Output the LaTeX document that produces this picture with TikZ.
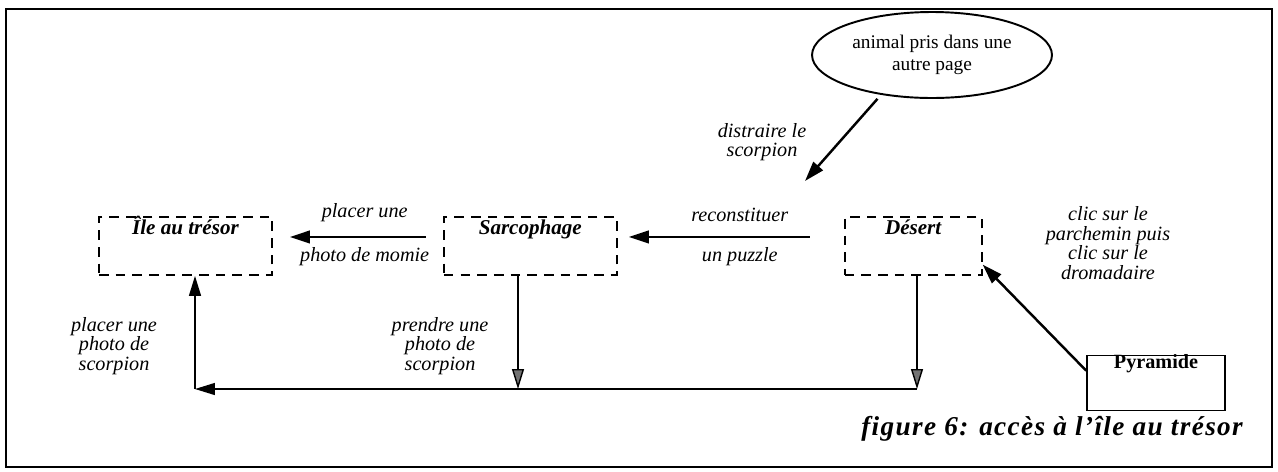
\documentclass[tikz,border=0pt]{standalone}
\usepackage{fontspec}
\setmainfont{Liberation Serif}
\usetikzlibrary{arrows.meta,positioning,shapes.geometric}

\begin{document}
\begin{tikzpicture}[
  x=0.02cm, y=-0.02cm,
  node distance=3.4cm,
  place/.style={draw, dash pattern=on 5.5pt off 4pt, line width=1.1pt,
    minimum width=3.46cm, inner sep=0pt, text height=3.6mm, text depth=8mm,
    font=\fontsize{12}{14}\selectfont\bfseries\itshape},
  lbl/.style={font=\fontsize{11.5}{11.2}\selectfont\itshape, align=center,
    inner sep=1pt},
  arrow/.style={-{Triangle[length=4mm, width=2.5mm]}, line width=1.4pt},
  link/.style={-{Triangle[length=4mm, width=2.4mm]}, line width=0.8pt},
  fall/.style={-{Triangle[length=4mm, width=2.4mm, fill=black!55]},
    line width=0.8pt}
]

% page and frame
\useasboundingbox (0,0) rectangle (1278,471);
\draw[line width=1.2pt] (6,9) rectangle (1272,467);

% places
\node[place, anchor=north west] (ile) at (98,216) {Île au trésor};
\node[place, right=of ile] (sarco) {Sarcophage};
\node[place, right=4.52cm of sarco, minimum width=2.74cm] (desert) {Désert};
\node[draw, line width=0.9pt, minimum width=2.76cm, inner sep=0pt,
  text height=2.6mm, text depth=8.4mm,
  font=\fontsize{11.5}{13}\selectfont\bfseries] (pyr) at (1156,383) {Pyramide};
\node[draw, ellipse, line width=1.1pt, minimum width=4.8cm, minimum height=1.72cm,
  inner sep=0pt, align=center, font=\fontsize{11}{12.5}\selectfont]
  (animal) at (932,55) {animal pris dans une\\autre page};

% top row
\draw[arrow, shorten <=3.4mm, shorten >=3.4mm]
  ([yshift=1.8mm]sarco.west) -- ([yshift=1.8mm]ile.east)
  node[lbl, pos=0.46, above=2.5mm] (placer) {placer une}
  node[lbl, pos=0.46, below=1.5mm] (momie) {photo de momie};
\draw[arrow, shorten <=6.8mm, shorten >=2.2mm]
  ([yshift=1.8mm]desert.west) -- ([yshift=1.8mm]sarco.east)
  node[lbl, pos=0.46, above=2.5mm] (reconst) {reconstituer}
  node[lbl, pos=0.46, below=1.5mm] (puzzle) {un puzzle};

% from outside
\coordinate (drop) at (805,181);
\draw[arrow, shorten <=3pt] (animal.218) -- (drop);
\node[lbl] (distraire) at (762,142) {distraire le\\scorpion};
\draw[arrow] (pyr.170) -- (desert.-15);
\node[lbl] (clic) at (1108,243) {clic sur le\\parchemin puis\\clic sur le\\dromadaire};

% back to the island
\coordinate (jd) at (917,389);
\coordinate (js) at (518,389);
\coordinate (jl) at (195,389);
\draw[fall] (desert.south -| jd) -- (jd);
\draw[fall] (sarco.south -| js) -- (js);
\draw[link] (jd) -- (jl);
\draw[link] (jl) -- (ile.south -| jl);
\node[lbl] (prendre) at (440,346) {prendre une\\photo de\\scorpion};
\node[lbl] (placerscorp) at (114,346) {placer une\\photo de\\scorpion};

% caption
\node[anchor=base east, font=\fontsize{15.5}{18}\selectfont\bfseries\itshape
  \addfontfeatures{LetterSpace=5}] (caption) at (1249,435)
  {figure 6: accès à l’île au trésor};

\end{tikzpicture}
\end{document}
